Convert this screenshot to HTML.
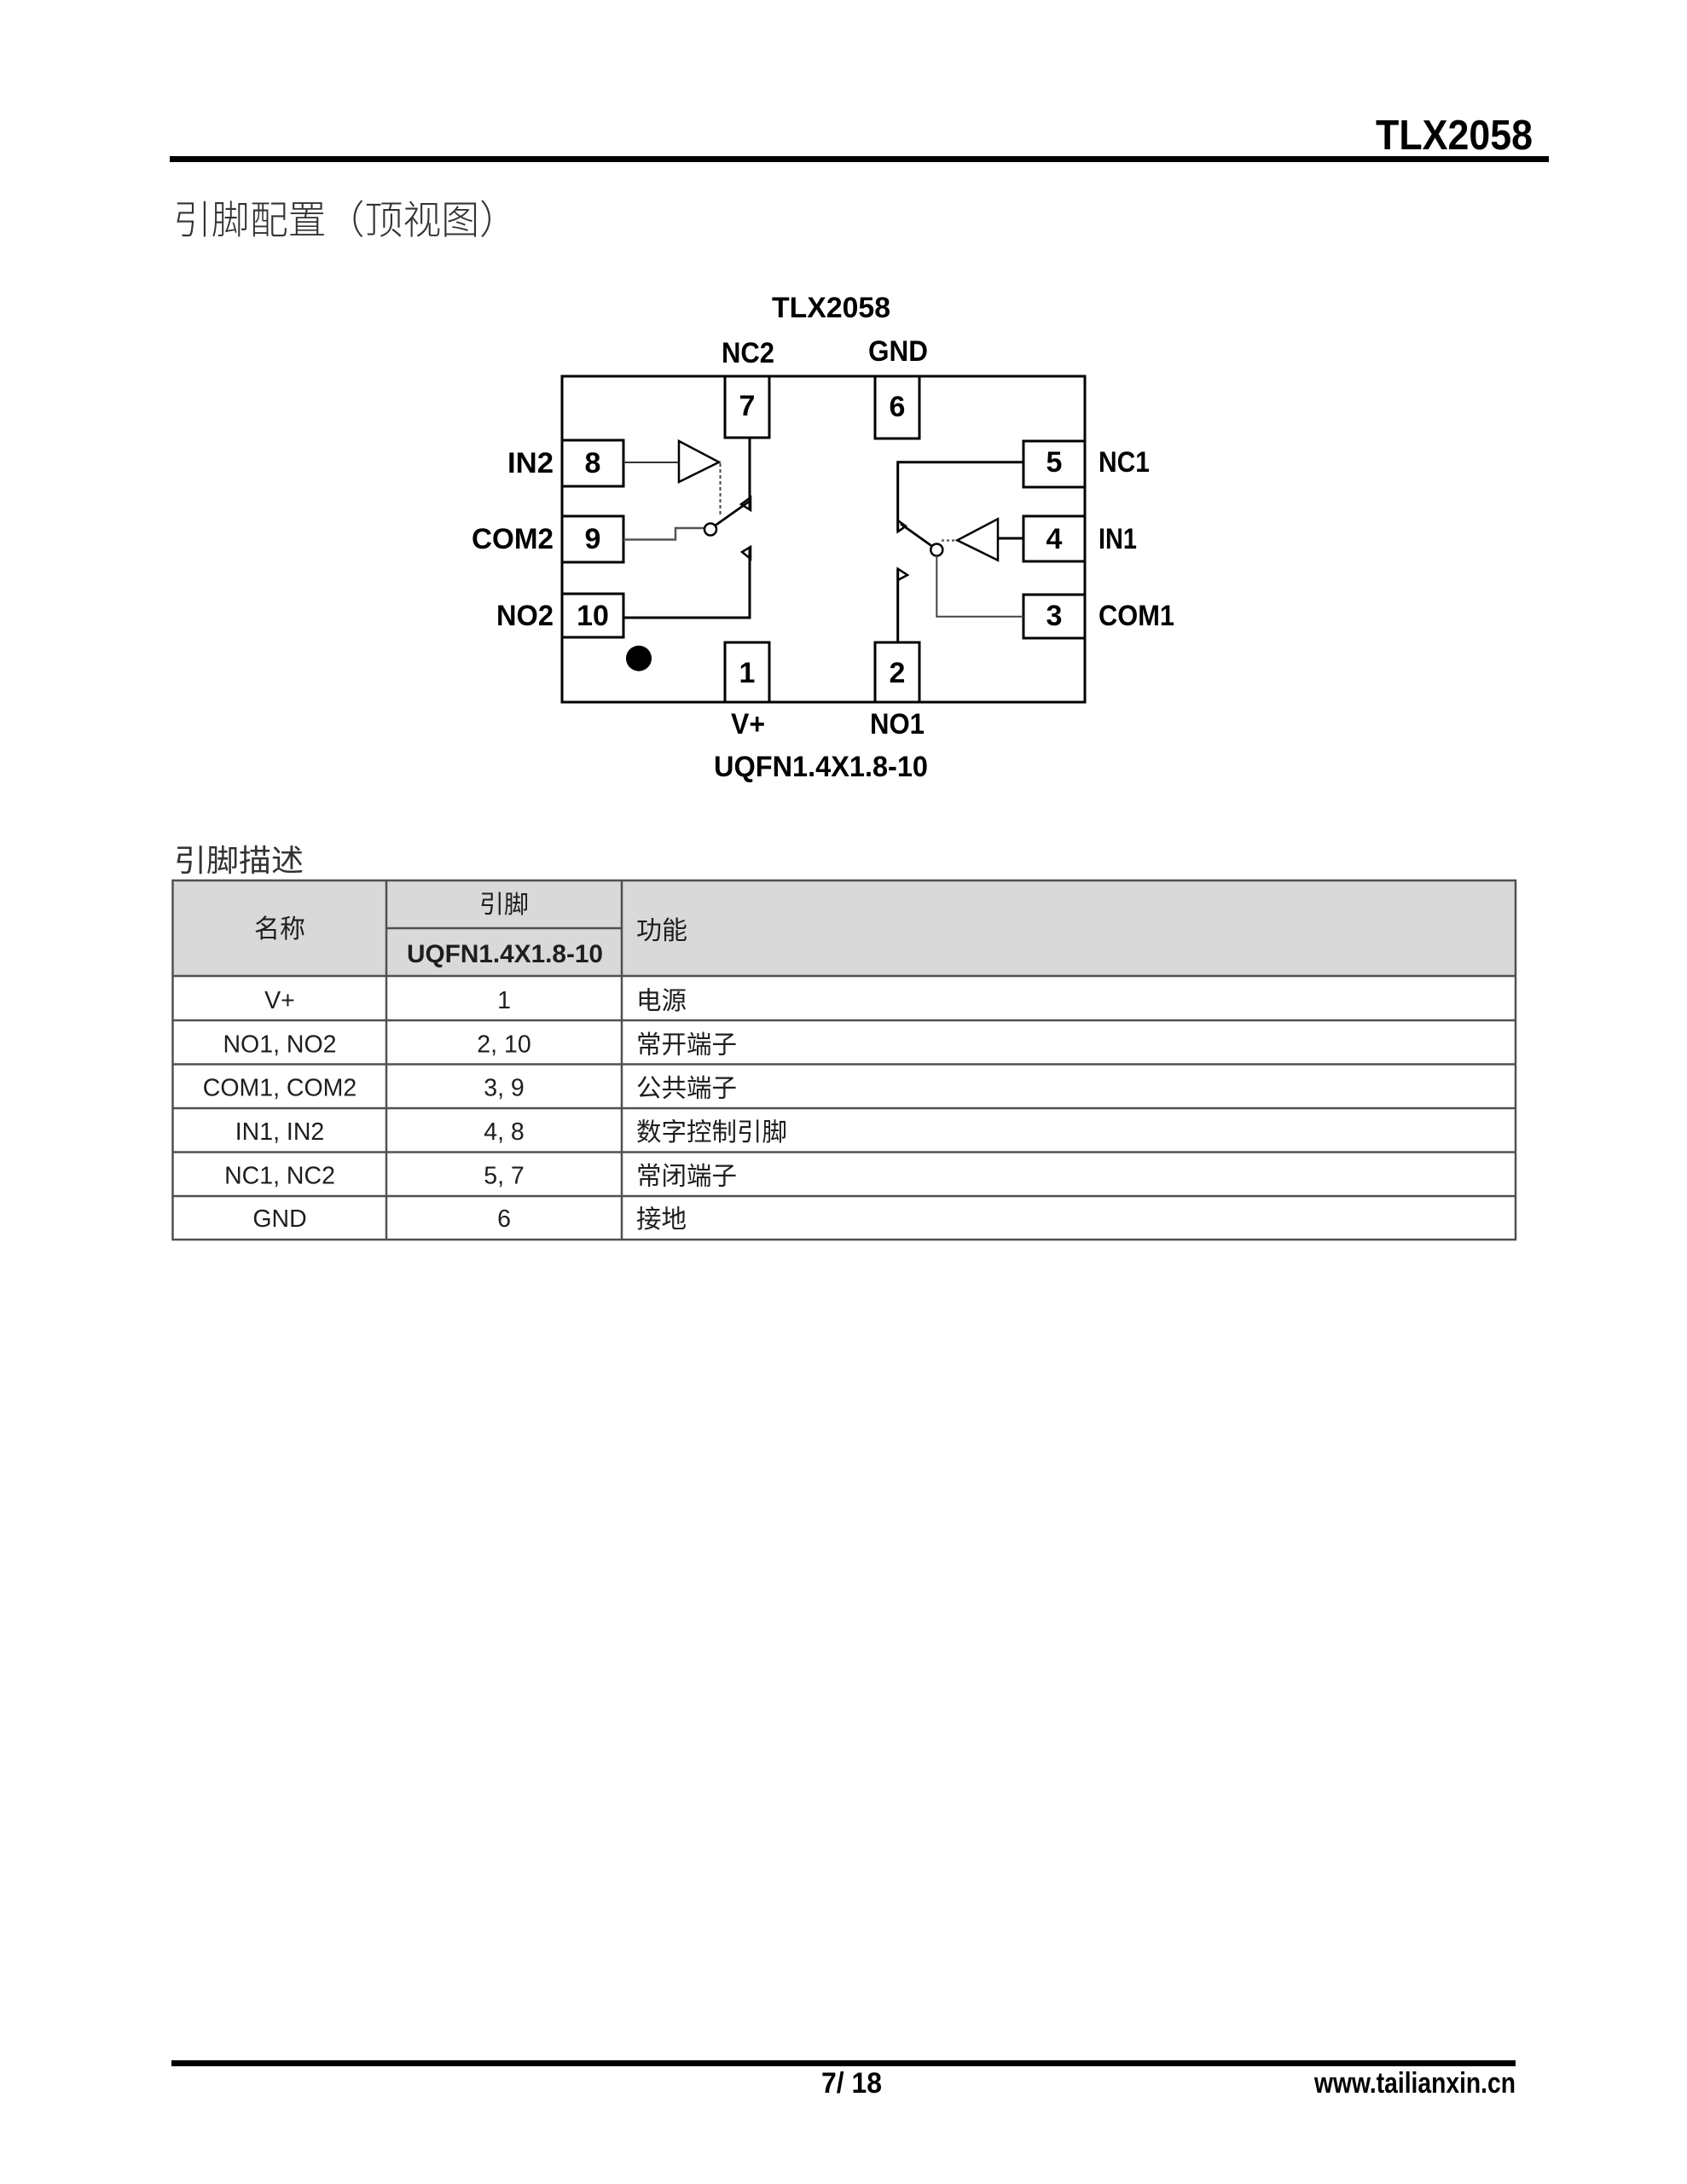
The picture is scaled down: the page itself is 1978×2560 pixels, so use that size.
<!DOCTYPE html>
<html>
<head>
<meta charset="utf-8">
<style>
  html, body { margin:0; padding:0; background:#fff; }
  body { width:1978px; height:2560px; overflow:hidden; }
  svg { display:block; }
  .b { font-family:"Liberation Sans","Noto Sans CJK SC",sans-serif; font-weight:bold; fill:#000; }
  .t { font-family:"Liberation Sans","Noto Sans CJK SC",sans-serif; fill:#1e1e1e; }
  .cjk { font-family:"Liberation Sans","Noto Sans CJK SC",sans-serif; fill:#1e1e1e; }
</style>
</head>
<body>
<svg width="1978" height="2560" viewBox="0 0 1978 2560" xmlns="http://www.w3.org/2000/svg">
  <!-- Header -->
  <text class="b" x="1613" y="175" font-size="49" textLength="184" lengthAdjust="spacingAndGlyphs">TLX2058</text>
  <rect x="199" y="183" width="1617" height="7" fill="#000"/>

  <!-- Section title -->
  <text class="cjk" x="203" y="274" font-size="46" font-weight="300" style="fill:#333" textLength="404" lengthAdjust="spacingAndGlyphs">引脚配置（顶视图）</text>

  <!-- Diagram -->
  <g fill="none" stroke="#000" stroke-linejoin="miter">
    <rect x="659" y="441" width="613" height="382" stroke-width="3"/>
    <rect x="850" y="441" width="52" height="72" stroke-width="3" fill="#fff"/>
    <rect x="1026" y="441" width="52" height="73" stroke-width="3" fill="#fff"/>
    <rect x="850" y="753" width="52" height="70" stroke-width="3" fill="#fff"/>
    <rect x="1026" y="753" width="52" height="70" stroke-width="3" fill="#fff"/>
    <rect x="659" y="516" width="72" height="54" stroke-width="3" fill="#fff"/>
    <rect x="659" y="605" width="72" height="54" stroke-width="3" fill="#fff"/>
    <rect x="659" y="696" width="72" height="51" stroke-width="3" fill="#fff"/>
    <rect x="1200" y="517" width="72" height="54" stroke-width="3" fill="#fff"/>
    <rect x="1200" y="605" width="72" height="53" stroke-width="3" fill="#fff"/>
    <rect x="1200" y="697" width="72" height="51" stroke-width="3" fill="#fff"/>

    <!-- Switch 2 (left) -->
    <line x1="731" y1="542" x2="796" y2="542" stroke-width="2" stroke="#333"/>
    <polygon points="796,517 796,565 843,541.7" stroke-width="2.5"/>
    <line x1="844.5" y1="543" x2="844.5" y2="604" stroke-width="2" stroke="#444" stroke-dasharray="4 3"/>
    <line x1="879" y1="513" x2="879" y2="598" stroke-width="3"/>
    <polygon points="880,583 869,591 880,598" stroke-width="2.5"/>
    <line x1="838.5" y1="616" x2="878" y2="588" stroke-width="2.8"/>
    <polyline points="731,632.5 792,632.5 792,619 826,619" stroke-width="2.5" stroke="#555"/>
    <circle cx="833" cy="620.5" r="7" stroke-width="2.5" fill="#fff"/>
    <polygon points="880,641 870,647 880,655" stroke-width="2.5"/>
    <polyline points="879,641 879,724 731,724" stroke-width="3"/>

    <!-- Switch 1 (right) -->
    <polyline points="1200,541.7 1052.7,541.7 1052.7,623" stroke-width="3"/>
    <polygon points="1052.7,610 1062,616.7 1052.7,623.3" stroke-width="2.5"/>
    <line x1="1056" y1="614" x2="1092.5" y2="640" stroke-width="2.8"/>
    <line x1="1104" y1="633.5" x2="1122" y2="633.5" stroke-width="2.5" stroke="#666" stroke-dasharray="3 3"/>
    <polygon points="1122.3,633.3 1170,608.3 1170,656.7" stroke-width="2.5"/>
    <line x1="1170" y1="631" x2="1200" y2="631" stroke-width="3"/>
    <circle cx="1098.3" cy="644.5" r="7" stroke-width="2.5" fill="#fff"/>
    <polyline points="1098.3,651.5 1098.3,722.7 1200,722.7" stroke-width="2" stroke="#444"/>
    <polygon points="1052.7,666.7 1064,674 1052.7,680" stroke-width="2.5"/>
    <line x1="1052.7" y1="667" x2="1052.7" y2="753" stroke-width="3"/>
  </g>
  <circle cx="749" cy="771.7" r="15" fill="#000"/>

  <!-- Diagram labels -->
  <text class="b" x="905" y="372" font-size="34" textLength="139" lengthAdjust="spacingAndGlyphs">TLX2058</text>
  <text class="b" x="846" y="425" font-size="34" textLength="62" lengthAdjust="spacingAndGlyphs">NC2</text>
  <text class="b" x="1018" y="423" font-size="34" textLength="70" lengthAdjust="spacingAndGlyphs">GND</text>
  <text class="b" x="876" y="487" font-size="34" text-anchor="middle">7</text>
  <text class="b" x="1052" y="488" font-size="34" text-anchor="middle">6</text>
  <text class="b" x="695" y="554" font-size="34" text-anchor="middle">8</text>
  <text class="b" x="595" y="554" font-size="34" textLength="54" lengthAdjust="spacingAndGlyphs">IN2</text>
  <text class="b" x="695" y="643" font-size="34" text-anchor="middle">9</text>
  <text class="b" x="553" y="643" font-size="34" textLength="96" lengthAdjust="spacingAndGlyphs">COM2</text>
  <text class="b" x="695" y="733" font-size="34" text-anchor="middle">10</text>
  <text class="b" x="582" y="733" font-size="34" textLength="67" lengthAdjust="spacingAndGlyphs">NO2</text>
  <text class="b" x="876" y="800" font-size="34" text-anchor="middle">1</text>
  <text class="b" x="1052" y="800" font-size="34" text-anchor="middle">2</text>
  <text class="b" x="857" y="860" font-size="34" textLength="40" lengthAdjust="spacingAndGlyphs">V+</text>
  <text class="b" x="1020" y="860" font-size="34" textLength="64" lengthAdjust="spacingAndGlyphs">NO1</text>
  <text class="b" x="837" y="910" font-size="34" textLength="251" lengthAdjust="spacingAndGlyphs">UQFN1.4X1.8-10</text>
  <text class="b" x="1236" y="553" font-size="34" text-anchor="middle">5</text>
  <text class="b" x="1288" y="553" font-size="34" textLength="60" lengthAdjust="spacingAndGlyphs">NC1</text>
  <text class="b" x="1236" y="643" font-size="34" text-anchor="middle">4</text>
  <text class="b" x="1288" y="643" font-size="34" textLength="45" lengthAdjust="spacingAndGlyphs">IN1</text>
  <text class="b" x="1236" y="733" font-size="34" text-anchor="middle">3</text>
  <text class="b" x="1288" y="733" font-size="34" textLength="89" lengthAdjust="spacingAndGlyphs">COM1</text>

  <!-- Table title -->
  <text class="cjk" x="204" y="1021" font-size="36" style="fill:#333" textLength="152" lengthAdjust="spacingAndGlyphs">引脚描述</text>

  <!-- Table -->
  <rect x="202.5" y="1032" width="1574.5" height="112" fill="#d9d9d9"/>
  <g stroke="#505050" stroke-width="2.5" fill="none">
    <rect x="202.5" y="1032" width="1574.5" height="421"/>
    <line x1="453" y1="1032" x2="453" y2="1453"/>
    <line x1="729" y1="1032" x2="729" y2="1453"/>
    <line x1="453" y1="1088" x2="729" y2="1088"/>
    <line x1="202.5" y1="1144" x2="1777" y2="1144"/>
    <line x1="202.5" y1="1196" x2="1777" y2="1196"/>
    <line x1="202.5" y1="1247.5" x2="1777" y2="1247.5"/>
    <line x1="202.5" y1="1299" x2="1777" y2="1299"/>
    <line x1="202.5" y1="1350.5" x2="1777" y2="1350.5"/>
    <line x1="202.5" y1="1402" x2="1777" y2="1402"/>
  </g>

  <!-- Table header text -->
  <text class="cjk" x="328" y="1099" font-size="30" text-anchor="middle">名称</text>
  <text class="cjk" x="591" y="1070" font-size="29" text-anchor="middle">引脚</text>
  <text class="t" x="477" y="1128" font-size="30" font-weight="bold" textLength="230" lengthAdjust="spacingAndGlyphs">UQFN1.4X1.8-10</text>
  <text class="cjk" x="746" y="1101" font-size="30">功能</text>

  <!-- Table body -->
  <g class="t" font-size="28.5" text-anchor="middle">
    <text x="328" y="1182">V+</text>
    <text x="328" y="1233.5">NO1, NO2</text>
    <text x="328" y="1284.5">COM1, COM2</text>
    <text x="328" y="1336">IN1, IN2</text>
    <text x="328" y="1387.5">NC1, NC2</text>
    <text x="328" y="1438">GND</text>
    <text x="591" y="1182">1</text>
    <text x="591" y="1233.5">2, 10</text>
    <text x="591" y="1284.5">3, 9</text>
    <text x="591" y="1336">4, 8</text>
    <text x="591" y="1387.5">5, 7</text>
    <text x="591" y="1438">6</text>
  </g>
  <g class="cjk" font-size="29.5">
    <text x="746" y="1183">电源</text>
    <text x="746" y="1234.5">常开端子</text>
    <text x="746" y="1285.5">公共端子</text>
    <text x="746" y="1337">数字控制引脚</text>
    <text x="746" y="1388.5">常闭端子</text>
    <text x="746" y="1439">接地</text>
  </g>

  <!-- Footer -->
  <rect x="201" y="2415" width="1576" height="7" fill="#000"/>
  <text class="b" x="963" y="2453" font-size="34" textLength="71" lengthAdjust="spacingAndGlyphs">7/ 18</text>
  <text class="b" x="1541" y="2453" font-size="34" textLength="236" lengthAdjust="spacingAndGlyphs">www.tailianxin.cn</text>
</svg>
</body>
</html>
